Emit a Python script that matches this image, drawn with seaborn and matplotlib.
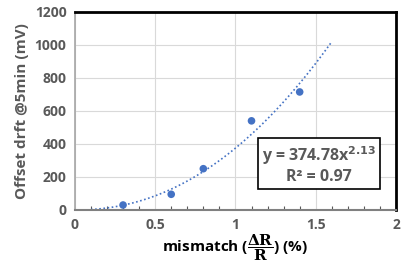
import numpy as np
import seaborn as sns
import matplotlib.pyplot as plt
from matplotlib.ticker import MultipleLocator

mismatch = [0.3, 0.6, 0.8, 1.1, 1.4]
offset_drift = [30, 95, 250, 540, 715]
fit_coef = 374.78
fit_exp = 2.13
fit_r2 = 0.97
fit_range = [0.1, 1.6]

sns.set_style("whitegrid")
plt.rcParams['font.family'] = ['Open Sans', 'DejaVu Sans']
plt.rcParams['mathtext.fontset'] = 'dejavuserif'
gray = '#595959'

fig = plt.figure(figsize=(4.07, 2.77), dpi=100)
ax = fig.add_axes([0.184, 0.242, 0.789, 0.715])

sns.scatterplot(x=mismatch, y=offset_drift, ax=ax, color='#4472c4', s=30,
                edgecolor='none', zorder=3)
xf = np.linspace(fit_range[0], fit_range[1], 100)
sns.lineplot(x=xf, y=fit_coef * xf ** fit_exp, ax=ax, color='#4472c4',
             linestyle=(0, (1, 1.5)), linewidth=1.2)

ax.set_xlim(0, 2)
ax.set_ylim(0, 1200)
ax.xaxis.set_major_locator(MultipleLocator(0.5))
ax.xaxis.set_minor_locator(MultipleLocator(0.1))
ax.yaxis.set_major_locator(MultipleLocator(200))
ax.set_xticks([0, 0.5, 1, 1.5, 2])
ax.set_xticklabels(['0', '0.5', '1', '1.5', '2'])
ax.grid(True, color='#d9d9d9', linewidth=0.8)
ax.tick_params(axis='both', labelsize=10, colors=gray, length=0, pad=6)
ax.tick_params(axis='x', which='minor', bottom=True, length=3, color=gray, width=0.8, direction='in')
for lab in ax.get_xticklabels() + ax.get_yticklabels():
    lab.set_fontweight('bold')

for side in ['top', 'right']:
    ax.spines[side].set_color('black')
    ax.spines[side].set_linewidth(2)
ax.spines['left'].set_color('#a6a6a6')
ax.spines['left'].set_linewidth(1.2)
ax.spines['bottom'].set_color('#808080')
ax.spines['bottom'].set_linewidth(1.5)

ax.set_ylabel('Offset drft @5min (mV)', fontsize=11, fontweight='bold', color=gray, labelpad=4)
ax.set_xlabel(r'mismatch ($\dfrac{\mathbf{\Delta R}}{\mathbf{R}}$) (%)', fontsize=11,
              fontweight='bold', color='black', labelpad=0)

ax.text(1.52, 275, f'y = {fit_coef}x$^{{\\mathbf{{{fit_exp}}}}}$\nR² = {fit_r2}',
        ha='center', va='center', fontsize=11.5, fontweight='bold', color=gray,
        linespacing=1.2, math_fontfamily='dejavusans',
        bbox=dict(boxstyle='square,pad=0.25', facecolor='white', edgecolor='black', linewidth=1.2))

fig.savefig('out.png', dpi=100)
